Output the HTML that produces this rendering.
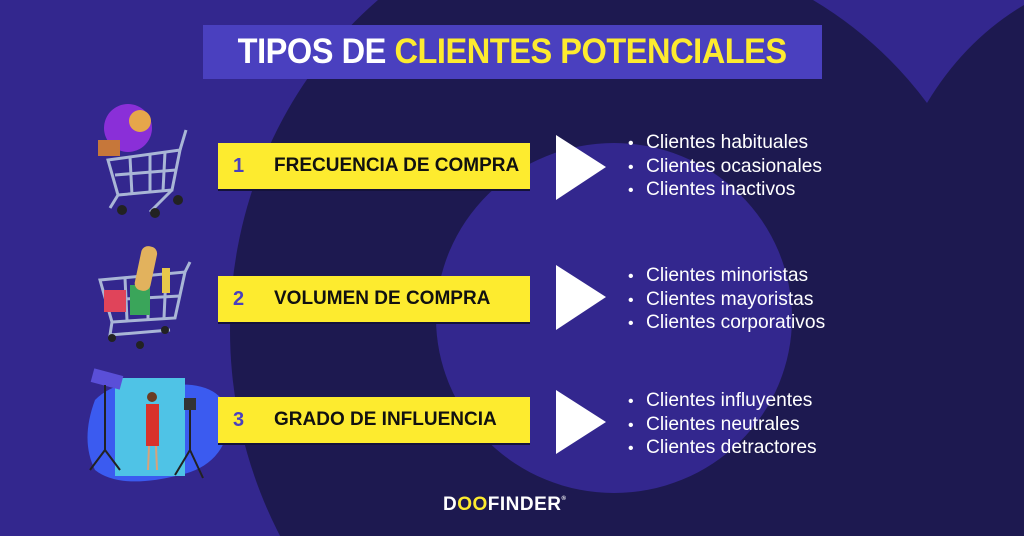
<!DOCTYPE html>
<html><head><meta charset="utf-8"><style>
*{margin:0;padding:0;box-sizing:border-box}
html,body{width:1024px;height:536px;overflow:hidden}
body{background:#33278e;position:relative;font-family:"Liberation Sans",sans-serif}
.abs{position:absolute}
.box{position:absolute;left:218px;width:312px;height:46px;background:#fdeb2f;box-shadow:0 2px 0 #14123a}
.box .n{position:absolute;left:15px;top:0;line-height:46px;font-weight:bold;font-size:20px;color:#4a40bf}
.box .t{position:absolute;left:56px;top:0;line-height:46px;font-weight:bold;font-size:19px;color:#111}
.list{position:absolute;left:628px;color:#fff;font-size:19.2px;line-height:22.5px}
.list div:before{content:"•";display:inline-block;width:18px;font-size:16px}
</style></head><body>
<svg class="abs" style="left:0;top:0" width="1024" height="536">
<ellipse cx="630" cy="330" rx="400" ry="425" fill="#1d1950"/>
<rect x="700" y="0" width="324" height="536" fill="#1d1950"/>
<path d="M813 0 Q880 40 927 103 Q965 40 1024 5 L1024 0Z" fill="#33278e"/>
<ellipse cx="614" cy="318" rx="178" ry="175" fill="#33278e"/>
<!-- cart 1 -->
<g stroke="#a9b6d6" stroke-width="3" fill="none">
<path d="M108 160 L180 150 L172 190 L118 195 Z"/><path d="M115 175 L176 170"/><path d="M130 157 L132 195 M150 155 L150 193 M165 152 L163 191"/>
<path d="M180 150 L186 130" /><path d="M118 195 L110 208 M172 190 L150 212"/>
</g>
<circle cx="122" cy="210" r="5" fill="#222"/><circle cx="155" cy="213" r="5" fill="#222"/><circle cx="178" cy="200" r="5" fill="#222"/>
<circle cx="128" cy="128" r="24" fill="#8a2fd8"/><circle cx="140" cy="121" r="11" fill="#e6a64a"/><rect x="98" y="140" width="22" height="16" fill="#c6773a"/>
<!-- cart 2 -->
<g stroke="#a9b6d6" stroke-width="3" fill="none">
<path d="M100 280 L185 272 L175 318 L112 322 Z"/><path d="M106 300 L180 296"/><path d="M125 278 L127 320 M148 276 L148 320 M166 274 L164 318"/>
<path d="M112 322 L110 335 L170 330 M185 272 L190 262"/>
</g>
<circle cx="112" cy="338" r="4" fill="#222"/><circle cx="140" cy="345" r="4" fill="#222"/><circle cx="165" cy="330" r="4" fill="#222"/>
<rect x="104" y="290" width="22" height="22" fill="#e0445a"/><rect x="130" y="285" width="20" height="30" fill="#3aa55a"/>
<rect x="138" y="246" width="16" height="45" rx="7" fill="#e2b25d" transform="rotate(12 146 268)"/><rect x="162" y="268" width="8" height="25" fill="#e7c84a"/>
<!-- influencer -->
<path d="M95 400 Q120 375 170 385 Q225 380 230 420 Q225 465 180 475 Q120 490 95 470 Q80 440 95 400Z" fill="#3b5bf0"/>
<rect x="115" y="378" width="70" height="98" fill="#4fc3e6"/>
<rect x="92" y="372" width="30" height="14" fill="#5a4fd8" transform="rotate(15 107 379)"/>
<path d="M105 385 L105 450 L90 470 M105 450 L120 470" stroke="#222" stroke-width="2" fill="none"/>
<path d="M190 410 L190 450 L175 475 M190 450 L203 478" stroke="#222" stroke-width="2" fill="none"/>
<rect x="184" y="398" width="12" height="12" fill="#333"/>
<circle cx="152" cy="397" r="5" fill="#6b3b22"/><rect x="146" y="404" width="13" height="42" fill="#d8322b"/><path d="M149 446 L148 470 M156 446 L157 470" stroke="#d9a27a" stroke-width="2"/>
<!-- triangles -->
<polygon points="556,135 606,167 556,200" fill="#fff"/>
<polygon points="556,265 606,297 556,330" fill="#fff"/>
<polygon points="556,390 606,422 556,454" fill="#fff"/>
</svg>
<div class="abs" style="left:203px;top:25px;width:619px;height:54px;background:#4a40bf"></div>
<div class="abs" style="left:203px;top:25px;width:619px;height:54px;line-height:54px;text-align:center;font-weight:bold;font-size:35px;color:#fff;letter-spacing:-0.5px"><span style="display:inline-block;transform:scaleX(0.93)">TIPOS DE <span style="color:#fdeb2f">CLIENTES POTENCIALES</span></span></div>
<div class="box" style="top:143px"><span class="n">1</span><span class="t">FRECUENCIA DE COMPRA</span></div>
<div class="box" style="top:276px"><span class="n">2</span><span class="t">VOLUMEN DE COMPRA</span></div>
<div class="box" style="top:397px"><span class="n">3</span><span class="t">GRADO DE INFLUENCIA</span></div>
<div class="list" style="top:132px"><div>Clientes habituales</div><div>Clientes ocasionales</div><div>Clientes inactivos</div></div>
<div class="list" style="top:265px"><div>Clientes minoristas</div><div>Clientes mayoristas</div><div>Clientes corporativos</div></div>
<div class="list" style="top:390px"><div>Clientes influyentes</div><div>Clientes neutrales</div><div>Clientes detractores</div></div>
<div class="abs" style="left:443px;top:494px;height:22px;line-height:22px;font-weight:bold;font-size:19px;color:#fff;letter-spacing:0.5px">D<span style="color:#fdeb2f">OO</span>FINDER<span style="font-size:6px;vertical-align:top;line-height:10px">®</span></div>
</body></html>
